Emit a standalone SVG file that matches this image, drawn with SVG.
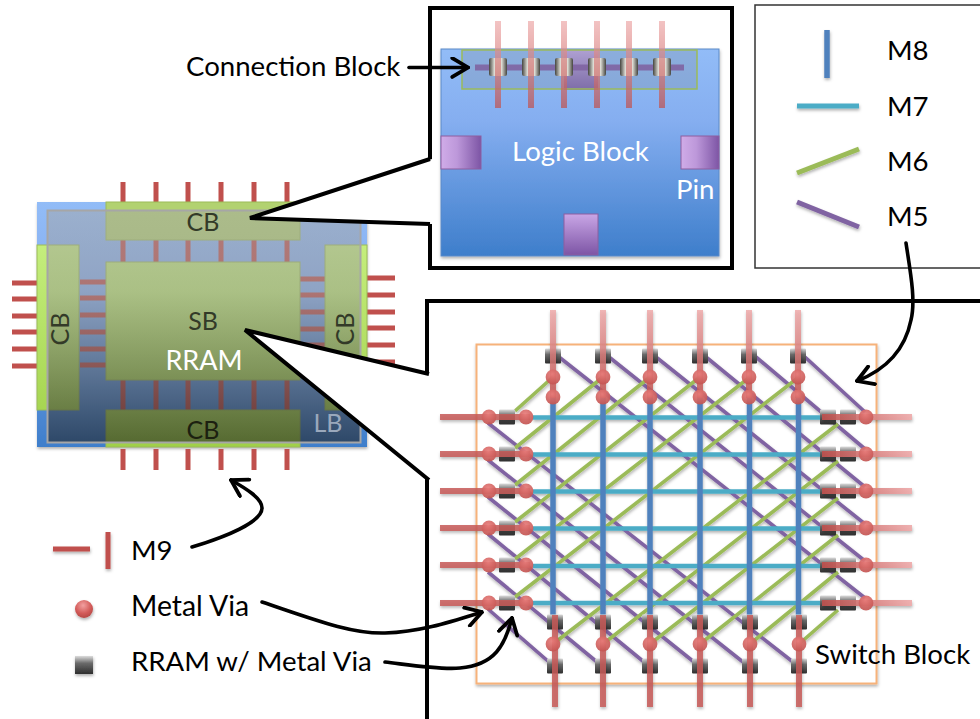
<svg xmlns="http://www.w3.org/2000/svg" xmlns:xlink="http://www.w3.org/1999/xlink" width="980" height="719" viewBox="0 0 980 719">
<style>
text{font-family:"Lato","Open Sans","Liberation Sans",sans-serif;font-size:27.6px;fill:#000}
.w{fill:#fff}.d{fill:#333a28;text-anchor:middle;font-size:25px}
.m5{stroke:#8064a2;stroke-width:3.6;fill:none}
.m6{stroke:#9bbb59;stroke-width:3.6;fill:none}
.m7{stroke:#4bacc6;stroke-width:4.5;fill:none}
.m8{stroke:#4f81bd;stroke-width:5.5;fill:none}
.st{stroke:#c0504d;stroke-width:5;fill:none}
.arr{stroke:#000;stroke-width:3.6;fill:none;stroke-linecap:round}
.frame{stroke:#000;stroke-width:4;fill:none}
.thin{stroke:#000;stroke-width:4;fill:none}
.grn{fill:url(#gGreen);stroke:#9bbb59;stroke-width:1}
.pin{stroke:#8d5f9f;stroke-width:1}
</style>
<defs>
<linearGradient id="gBlue" x1="0" y1="0" x2="0" y2="1"><stop offset="0" stop-color="#92bcf7"/><stop offset=".35" stop-color="#85aef0"/><stop offset="1" stop-color="#3e7ecb"/></linearGradient>
<linearGradient id="gGreen" gradientUnits="userSpaceOnUse" x1="0" y1="202" x2="0" y2="447"><stop offset="0" stop-color="#ccf488"/><stop offset="1" stop-color="#a0d048"/></linearGradient>
<linearGradient id="gOver" x1="0" y1="0" x2="0" y2="1"><stop offset="0" stop-color="#a5a5a5" stop-opacity=".5"/><stop offset=".35" stop-color="#999" stop-opacity=".5"/><stop offset="1" stop-color="#202020" stop-opacity=".58"/></linearGradient>
<linearGradient id="gPinH" x1="0" y1="0" x2="1" y2="0"><stop offset="0" stop-color="#d0ace8"/><stop offset=".4" stop-color="#bd98da"/><stop offset="1" stop-color="#7d55a5"/></linearGradient>
<linearGradient id="gPinV" x1="0" y1="0" x2="0" y2="1"><stop offset="0" stop-color="#c9a6e6"/><stop offset="1" stop-color="#7d55a5"/></linearGradient>
<linearGradient id="gRram" x1="0" y1="0" x2="0" y2="1"><stop offset="0" stop-color="#dcdcdc"/><stop offset=".4" stop-color="#6a6a6a"/><stop offset="1" stop-color="#2e2e2e"/></linearGradient>
<linearGradient id="gRram2" x1="0" y1="0" x2="1" y2="0"><stop offset="0" stop-color="#45453f"/><stop offset=".3" stop-color="#dcdcd4"/><stop offset=".7" stop-color="#dcdcd4"/><stop offset="1" stop-color="#45453f"/></linearGradient>
<linearGradient id="gM9V" x1="0" y1="0" x2="0" y2="1"><stop offset="0" stop-color="#eeaaaa"/><stop offset="1" stop-color="#c0504d"/></linearGradient>
<linearGradient id="gM9H" x1="0" y1="0" x2="1" y2="0"><stop offset="0" stop-color="#c0504d"/><stop offset="1" stop-color="#eeaaaa"/></linearGradient>
<radialGradient id="gVia" cx=".45" cy=".3" r=".75"><stop offset="0" stop-color="#f2a0a0"/><stop offset=".6" stop-color="#d25a58"/><stop offset="1" stop-color="#b04542"/></radialGradient>
<radialGradient id="gVia2" cx=".45" cy=".3" r=".8"><stop offset="0" stop-color="#e87c7a"/><stop offset="1" stop-color="#bf4f4c"/></radialGradient>
<filter id="sh" x="-20%" y="-20%" width="140%" height="140%"><feDropShadow dx="0.5" dy="2" stdDeviation="1.4" flood-color="#000" flood-opacity=".3"/></filter>
<marker id="ah" viewBox="0 0 14 14" refX="13" refY="7" markerWidth="22" markerHeight="22" markerUnits="userSpaceOnUse" orient="auto"><path d="M3 1L13 7L3 13" fill="none" stroke="#000" stroke-width="2.4" stroke-linecap="round"/></marker>
<rect id="r" x="-8" y="-7.5" width="16" height="15" rx="1" fill="url(#gRram)"/>
<circle id="v" r="7.4" fill="url(#gVia2)" fill-opacity=".92"/>
</defs>

<g id="logic-block-panel">
<rect x="441" y="49" width="278" height="207" fill="url(#gBlue)" stroke="#5b8ac8" stroke-width="1" filter="url(#sh)"/>
<rect x="564" y="50" width="34" height="40" fill="url(#gPinV)" opacity=".9"/>
<rect x="462" y="50" width="235" height="39" fill="#7f8f9f" fill-opacity=".3" stroke="#9bbb59" stroke-width="1.5"/>
<line x1="475" y1="67.500" x2="684" y2="67.500" stroke="#8064a2" stroke-width="6" opacity=".9"/>
<g fill="url(#gRram2)">
<rect x="489" y="58" width="18" height="18" rx="2"/><rect x="522" y="58" width="18" height="18" rx="2"/><rect x="555" y="58" width="18" height="18" rx="2"/><rect x="588" y="58" width="18" height="18" rx="2"/><rect x="620" y="58" width="18" height="18" rx="2"/><rect x="653" y="58" width="18" height="18" rx="2"/>
</g>
<g fill="url(#gM9V)" opacity=".7">
<rect x="495" y="21" width="6" height="87"/><rect x="528" y="21" width="6" height="87"/><rect x="561" y="21" width="6" height="87"/><rect x="594" y="21" width="6" height="87"/><rect x="626" y="21" width="6" height="87"/><rect x="659" y="21" width="6" height="87"/>
</g>
<rect class="pin" x="441" y="136" width="40" height="33" fill="url(#gPinH)"/>
<rect class="pin" x="681" y="136" width="38" height="33" fill="url(#gPinH)"/>
<rect class="pin" x="564" y="214" width="34" height="41" fill="url(#gPinV)"/>
<text class="w" x="512" y="161">Logic Block</text>
<text class="w" x="676" y="199">Pin</text>
</g>

<g id="fabric">
<rect x="37" y="202" width="330" height="245" fill="url(#gBlue)" filter="url(#sh)"/>
<g class="st">
<path d="M123 182V202M156 182V202M188 182V202M221 182V202M254 182V202M287 182V202"/>
<path d="M123 240V262M156 240V262M188 240V262M221 240V262M254 240V262M287 240V262"/>
<path d="M123 380V410M156 380V410M188 380V410M221 380V410M254 380V410M287 380V410"/>
<path d="M123 449V470M156 449V470M188 449V470M221 449V470M254 449V470M287 449V470"/>
<path d="M12 283H37M12 299H37M12 316H37M12 332H37M12 349H37M12 366H37"/>
<path d="M80 282H106M80 298H106M80 315H106M80 332H106M80 349H106M80 365H106"/>
<path d="M300 279H325M300 295H325M300 312H325M300 329H325M300 345H325M300 362H325"/>
<path d="M367 278H395M367 295H395M367 312H395M367 328H395M367 345H395M367 362H395"/>
</g>
<rect id="cb-top" x="106" y="202" width="194" height="38" fill="#b2d270" stroke="#9bbb59"/>
<rect id="cb-bottom" class="grn" x="106" y="410" width="194" height="37"/>
<rect id="cb-left" class="grn" x="37" y="245" width="42" height="165"/>
<rect id="cb-right" class="grn" x="325" y="245" width="42" height="165"/>
<rect id="sb" class="grn" x="106" y="262" width="194" height="118"/>
<rect x="47.500" y="210.500" width="313" height="232" fill="url(#gOver)" stroke="#a6a6a6" stroke-width="2"/>
<text class="d" x="203" y="231">CB</text>
<text class="d" x="203" y="330">SB</text>
<text class="w" x="204" y="370" style="text-anchor:middle;font-size:27px">RRAM</text>
<text class="d" x="203" y="439" style="fill:#1c2010">CB</text>
<text class="d" transform="translate(69,329) rotate(-90)">CB</text>
<text class="d" transform="translate(354,329) rotate(-90)">CB</text>
<text x="328" y="432" style="fill:#9aa8bc;text-anchor:middle;font-size:25px">LB</text>
</g>

<g id="callouts">
<rect x="430" y="8" width="302" height="260" class="frame"/>
<path d="M427 719V301H980" class="frame"/>
<polygon points="250,218 432,159 432,224" fill="#fff"/>
<polygon points="245,330 429,374 429,480" fill="#fff"/>
<path class="thin" d="M430 159L250 218L430 224"/>
<path class="thin" d="M429 374L245 330L429 480"/>
</g>

<g id="legend">
<rect x="755" y="5" width="240" height="263" fill="#fff" stroke="#333" stroke-width="1.500"/>
<g filter="url(#sh)">
<line class="m8" x1="827" y1="30" x2="827" y2="78"/>
<line class="m7" x1="797" y1="106" x2="859" y2="106" style="stroke-width:5"/>
<line class="m6" x1="797" y1="173" x2="859" y2="149" style="stroke-width:5"/>
<line class="m5" x1="797" y1="202" x2="859" y2="227" style="stroke-width:5"/>
</g>
<text x="887" y="60">M8</text>
<text x="887" y="116">M7</text>
<text x="887" y="171">M6</text>
<text x="887" y="226">M5</text>
</g>

<g id="legend-vias">
<g filter="url(#sh)">
<line class="st" x1="53" y1="549" x2="90" y2="549"/>
<line class="st" x1="108" y1="532" x2="108" y2="569"/>
<circle cx="84" cy="609" r="9" fill="url(#gVia)"/>
<rect x="75" y="656" width="18" height="18" fill="url(#gRram)"/>
</g>
<text x="131" y="560">M9</text>
<text x="131" y="616" style="font-size:28.4px">Metal Via</text>
<text x="131" y="671">RRAM w/ Metal Via</text>
</g>

<g id="switch-block">
<rect x="476.500" y="344.500" width="400" height="339" fill="#fff" stroke="#f6b27a" stroke-width="2" filter="url(#sh)"/>
<g filter="url(#sh)">
<g class="m5">
<path d="M559 357L865 598M609 357L865 561M656 357L865 524M706 357L865 487M756 357L865 449M805 357L865 412"/>
<path d="M488 609L549 662M488 572L597 662M488 534L644 662M488 497L694 662M488 460L743 662M488 423L793 662"/>
</g>
<g class="m6">
<path d="M515 411L553 377M515 448L603 377M515 485L650 377M515 522L700 377M515 559L750 377M515 597L799 377"/>
<path d="M553 644L838 424M603 644L838 461M650 644L838 498M700 644L838 535M750 644L838 572M799 644L838 610"/>
</g>
<g class="m7">
<path d="M533 417.500H822M533 454.500H822M533 491.500H822M533 528.500H822M533 566H822M533 603H822"/>
</g>
<g class="m8">
<path d="M553 397V615M603 397V615M650 397V615M700 397V615M749.500 397V615M798.500 397V615"/>
</g>
</g>
<g>
<use xlink:href="#r" x="553" y="356"/><use xlink:href="#r" x="603" y="356"/><use xlink:href="#r" x="650" y="356"/><use xlink:href="#r" x="700" y="356"/><use xlink:href="#r" x="749" y="356"/><use xlink:href="#r" x="798" y="356"/>
<use xlink:href="#r" x="555" y="622"/><use xlink:href="#r" x="603" y="622"/><use xlink:href="#r" x="650" y="622"/><use xlink:href="#r" x="700" y="622"/><use xlink:href="#r" x="750" y="622"/><use xlink:href="#r" x="799" y="622"/>
<use xlink:href="#r" x="555" y="666"/><use xlink:href="#r" x="603" y="666"/><use xlink:href="#r" x="650" y="666"/><use xlink:href="#r" x="700" y="666"/><use xlink:href="#r" x="750" y="666"/><use xlink:href="#r" x="799" y="666"/>
<use xlink:href="#r" x="507" y="417"/><use xlink:href="#r" x="507" y="454"/><use xlink:href="#r" x="507" y="491"/><use xlink:href="#r" x="507" y="528"/><use xlink:href="#r" x="507" y="565"/><use xlink:href="#r" x="507" y="603"/>
<use xlink:href="#r" x="828" y="417"/><use xlink:href="#r" x="828" y="454"/><use xlink:href="#r" x="828" y="491"/><use xlink:href="#r" x="828" y="528"/><use xlink:href="#r" x="828" y="565"/><use xlink:href="#r" x="828" y="603"/>
<use xlink:href="#r" x="848" y="417"/><use xlink:href="#r" x="848" y="454"/><use xlink:href="#r" x="848" y="491"/><use xlink:href="#r" x="848" y="528"/><use xlink:href="#r" x="848" y="565"/><use xlink:href="#r" x="848" y="603"/>
</g>
<g filter="url(#sh)">
<g fill="url(#gM9V)" fill-opacity=".85">
<rect x="550" y="310" width="6" height="88"/><rect x="600" y="310" width="6" height="88"/><rect x="647" y="310" width="6" height="88"/><rect x="697" y="310" width="6" height="88"/><rect x="746" y="310" width="6" height="88"/><rect x="795" y="310" width="6" height="88"/>
</g>
<g fill="#c65a58" fill-opacity=".85">
<rect x="552" y="615" width="6" height="92"/><rect x="600" y="615" width="6" height="92"/><rect x="647" y="615" width="6" height="92"/><rect x="697" y="615" width="6" height="92"/><rect x="747" y="615" width="6" height="92"/><rect x="796" y="615" width="6" height="92"/>
<rect x="440" y="414" width="90" height="6"/><rect x="440" y="451" width="90" height="6"/><rect x="440" y="488" width="90" height="6"/><rect x="440" y="525" width="90" height="6"/><rect x="440" y="562" width="90" height="6"/><rect x="440" y="600" width="90" height="6"/>
</g>
<g fill="url(#gM9H)" fill-opacity=".9">
<rect x="822" y="414" width="90" height="6"/><rect x="822" y="451" width="90" height="6"/><rect x="822" y="488" width="90" height="6"/><rect x="822" y="525" width="90" height="6"/><rect x="822" y="562" width="90" height="6"/><rect x="822" y="600" width="90" height="6"/>
</g>
</g>
<g>
<use xlink:href="#v" x="553" y="377"/><use xlink:href="#v" x="603" y="377"/><use xlink:href="#v" x="650" y="377"/><use xlink:href="#v" x="700" y="377"/><use xlink:href="#v" x="749" y="377"/><use xlink:href="#v" x="798" y="377"/>
<use xlink:href="#v" x="553" y="397"/><use xlink:href="#v" x="603" y="397"/><use xlink:href="#v" x="650" y="397"/><use xlink:href="#v" x="700" y="397"/><use xlink:href="#v" x="749" y="397"/><use xlink:href="#v" x="798" y="397"/>
<use xlink:href="#v" x="553" y="644"/><use xlink:href="#v" x="603" y="644"/><use xlink:href="#v" x="650" y="644"/><use xlink:href="#v" x="700" y="644"/><use xlink:href="#v" x="750" y="644"/><use xlink:href="#v" x="799" y="644"/>
<use xlink:href="#v" x="489" y="417"/><use xlink:href="#v" x="489" y="454"/><use xlink:href="#v" x="489" y="491"/><use xlink:href="#v" x="489" y="528"/><use xlink:href="#v" x="489" y="565"/><use xlink:href="#v" x="489" y="603"/>
<use xlink:href="#v" x="526" y="417"/><use xlink:href="#v" x="526" y="454"/><use xlink:href="#v" x="526" y="491"/><use xlink:href="#v" x="526" y="528"/><use xlink:href="#v" x="526" y="565"/><use xlink:href="#v" x="526" y="603"/>
<use xlink:href="#v" x="866" y="417"/><use xlink:href="#v" x="866" y="454"/><use xlink:href="#v" x="866" y="491"/><use xlink:href="#v" x="866" y="528"/><use xlink:href="#v" x="866" y="565"/><use xlink:href="#v" x="866" y="603"/>
</g>
<text x="815" y="664">Switch Block</text>
</g>

<text id="connection-block-label" x="186" y="76">Connection Block</text>

<g id="connectors">
<path class="arr" marker-end="url(#ah)" d="M409 67.500H468"/>
<path class="arr" marker-end="url(#ah)" d="M906 243C910 270 916 300 911 320C905 350 885 370 857 381"/>
<path class="arr" marker-end="url(#ah)" d="M192 547C225 537 262 522 262 508C262 498 245 488 231 480"/>
<path class="arr" marker-end="url(#ah)" d="M262 602C310 618 350 634 385 633C420 632 450 622 482 612"/>
<path class="arr" marker-end="url(#ah)" d="M385 662C410 665 440 670 460 668C495 665 505 645 512 618"/>
</g>
</svg>
